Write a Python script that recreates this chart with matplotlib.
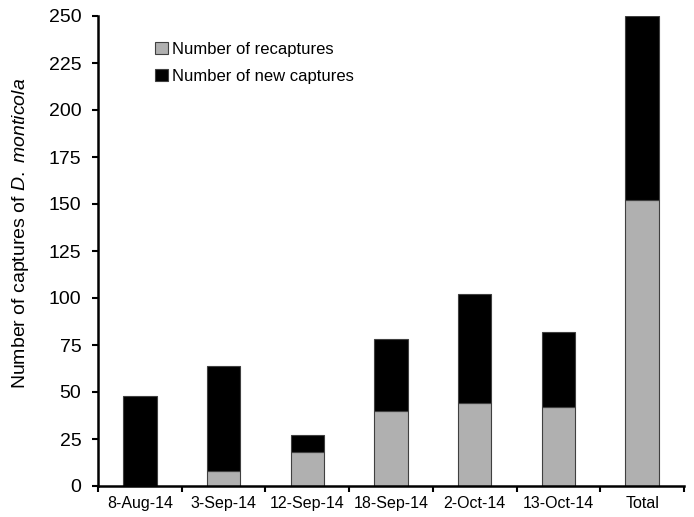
import matplotlib
matplotlib.use("Agg")
import matplotlib.pyplot as plt
import numpy as np

plt.rcParams['font.family'] = ['Liberation Sans', 'DejaVu Sans']
plt.rcParams['mathtext.fontset'] = 'custom'
plt.rcParams['mathtext.rm'] = 'Liberation Sans'
plt.rcParams['mathtext.it'] = 'Liberation Sans:italic'

categories = ['8-Aug-14', '3-Sep-14', '12-Sep-14', '18-Sep-14', '2-Oct-14', '13-Oct-14', 'Total']
recaptures = [0, 8, 18, 40, 44, 42, 152]
new_captures = [48, 56, 9, 38, 58, 40, 98]
yticks = [0, 25, 50, 75, 100, 125, 150, 175, 200, 225, 250]

W, H = 694, 517
fig = plt.figure(figsize=(W / 100, H / 100), dpi=100)
ax = fig.add_axes([98 / W, 31 / H, 586 / W, 470 / H])

x = np.arange(len(categories))
w = 0.4
ax.bar(x, recaptures, w, color='#b0b0b0', edgecolor='#404040', linewidth=0.8,
       label='Number of recaptures')
ax.bar(x, new_captures, w, bottom=recaptures, color='black', edgecolor='#404040',
       linewidth=0.8, label='Number of new captures')

ax.set_xlim(-0.5, len(categories) - 0.5)
ax.set_ylim(0, 250)
ax.set_yticks(yticks)
ax.set_xticks(x)
ax.set_xticklabels(categories)
ax.set_xticks(np.arange(len(categories) + 1) - 0.5, minor=True)
ax.tick_params(axis='x', which='major', length=0, labelsize=11.5, pad=7)
ax.tick_params(axis='x', which='minor', length=4, width=1.5, direction='out')
ax.tick_params(axis='y', length=4, width=1.5, direction='out', labelsize=14, pad=8)

for s in ['top', 'right']:
    ax.spines[s].set_visible(False)
for s in ['left', 'bottom']:
    ax.spines[s].set_linewidth(1.8)

fig.text(21 / W, 1 - 233 / H, r'Number of captures of $\it{D.\ monticola}$',
         rotation=90, ha='center', va='center', fontsize=14)

ax.legend(loc='upper left', bbox_to_anchor=(155 / W, 1 - 42 / H),
          bbox_transform=fig.transFigure, frameon=False, fontsize=12,
          borderpad=0, borderaxespad=0,
          handlelength=0.75, handleheight=0.75, handletextpad=0.25, labelspacing=0.72)

fig.savefig('out.png', dpi=100)
